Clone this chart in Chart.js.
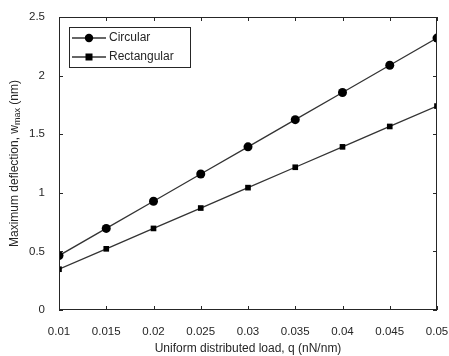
<!DOCTYPE html>
<html>
<head>
<meta charset="utf-8">
<script src="https://cdn.jsdelivr.net/npm/chart.js@4/dist/chart.umd.min.js"></script>
<style>
  html, body { margin: 0; padding: 0; background: #fff; }
  #wrap { width: 449px; height: 356px; }
</style>
</head>
<body>
<div id="wrap"><canvas id="c" width="449" height="356"></canvas></div>
<script>
// Load values (nN/nm) and the maximum deflection for each plate shape (nm)
const loads = [0.01, 0.015, 0.02, 0.025, 0.03, 0.035, 0.04, 0.045, 0.05];
const circular = [0.464, 0.696, 0.928, 1.16, 1.392, 1.624, 1.856, 2.088, 2.32];
const rectangular = [0.348, 0.522, 0.696, 0.87, 1.044, 1.218, 1.392, 1.566, 1.74];
const xTickLabels = ['0.01', '0.015', '0.02', '0.025', '0.03', '0.035', '0.04', '0.045', '0.05'];
const yTickValues = [0, 0.5, 1, 1.5, 2, 2.5];
const yTickLabels = ['0', '0.5', '1', '1.5', '2', '2.5'];

const INK = '#262626';
const FONT = 'Liberation Sans, Arial, sans-serif';

// Box around the plot with inward ticks on all four sides
const frame = {
  id: 'frame',
  afterDraw(chart) {
    const { ctx, chartArea: a, scales } = chart;
    ctx.save();
    ctx.strokeStyle = INK;
    ctx.lineWidth = 1;
    ctx.strokeRect(a.left + 0.5, a.top + 0.5, a.right - a.left - 1, a.bottom - a.top - 1);
    const t = 4;
    ctx.beginPath();
    loads.forEach(v => {
      const x = Math.round(scales.x.getPixelForValue(v)) + 0.5;
      ctx.moveTo(x, a.bottom); ctx.lineTo(x, a.bottom - t);
      ctx.moveTo(x, a.top); ctx.lineTo(x, a.top + t);
    });
    yTickValues.forEach(v => {
      const y = Math.round(scales.y.getPixelForValue(v)) + 0.5;
      ctx.moveTo(a.left, y); ctx.lineTo(a.left + t, y);
      ctx.moveTo(a.right, y); ctx.lineTo(a.right - t, y);
    });
    ctx.stroke();

    // y-axis title with subscript
    ctx.fillStyle = INK;
    ctx.translate(15, (a.top + a.bottom) / 2);
    ctx.rotate(-Math.PI / 2);
    const parts = [
      { s: 'Maximum deflection, w', f: '12px ' + FONT, dy: 0 },
      { s: 'max', f: '9px ' + FONT, dy: 3 },
      { s: ' (nm)', f: '12px ' + FONT, dy: 0 }
    ];
    let total = 0;
    parts.forEach(p => { ctx.font = p.f; p.w = ctx.measureText(p.s).width; total += p.w; });
    let x = -total / 2;
    ctx.textBaseline = 'middle';
    ctx.textAlign = 'left';
    parts.forEach(p => { ctx.font = p.f; ctx.fillText(p.s, x, p.dy); x += p.w; });
    ctx.restore();

    // legend box in the upper-left corner of the plot
    ctx.save();
    const lx = a.left + 10, ly = a.top + 10, lw = 121, lh = 40;
    ctx.fillStyle = '#fff';
    ctx.fillRect(lx, ly, lw, lh);
    ctx.strokeStyle = INK;
    ctx.lineWidth = 1;
    ctx.strokeRect(lx + 0.5, ly + 0.5, lw, lh);
    ctx.font = '12px ' + FONT;
    ctx.textBaseline = 'middle';
    chart.data.datasets.forEach((ds, i) => {
      const cy = ly + 11 + i * 19;
      ctx.strokeStyle = '#333';
      ctx.lineWidth = 1.3;
      ctx.beginPath();
      ctx.moveTo(lx + 3, cy); ctx.lineTo(lx + 37, cy);
      ctx.stroke();
      ctx.fillStyle = '#000';
      const mx = lx + 20;
      if (ds.pointStyle === 'rect') {
        ctx.fillRect(mx - 3.5, cy - 3.5, 7, 7);
      } else {
        ctx.beginPath(); ctx.arc(mx, cy, 4.2, 0, Math.PI * 2); ctx.fill();
      }
      ctx.fillStyle = INK;
      ctx.fillText(ds.label, lx + 40, cy);
    });
    ctx.restore();
  }
};

new Chart(document.getElementById('c'), {
  type: 'line',
  data: {
    datasets: [
      {
        label: 'Circular',
        data: loads.map((q, i) => ({ x: q, y: circular[i] })),
        borderColor: '#333', borderWidth: 1.3,
        pointStyle: 'circle', pointRadius: 4.5,
        pointBackgroundColor: '#000', pointBorderColor: '#000', pointBorderWidth: 0
      },
      {
        label: 'Rectangular',
        data: loads.map((q, i) => ({ x: q, y: rectangular[i] })),
        borderColor: '#333', borderWidth: 1.3,
        pointStyle: 'rect', pointRadius: 4,
        pointBackgroundColor: '#000', pointBorderColor: '#000', pointBorderWidth: 0
      }
    ]
  },
  options: {
    responsive: false,
    animation: false,
    layout: { padding: { left: 0, top: 17, right: 12, bottom: 0 } },
    plugins: { legend: { display: false }, tooltip: { enabled: false } },
    elements: { line: { tension: 0 } },
    scales: {
      x: {
        type: 'linear', min: 0.01, max: 0.05,
        afterBuildTicks: s => { s.ticks = loads.map(v => ({ value: v })); },
        afterFit: s => { s.height = 46; s.paddingLeft = 0; s.paddingRight = 0; },
        grid: { display: false },
        border: { display: false },
        ticks: {
          color: INK, font: { family: FONT, size: 11.5 }, padding: 7, maxRotation: 0, autoSkip: false,
          callback: (v, i) => xTickLabels[i]
        },
        title: {
          display: true, text: 'Uniform distributed load, q (nN/nm)',
          color: INK, font: { family: FONT, size: 12 }, padding: { top: 3, bottom: 0 }
        }
      },
      y: {
        type: 'linear', min: 0, max: 2.5,
        afterBuildTicks: s => { s.ticks = yTickValues.map(v => ({ value: v })); },
        afterFit: s => { s.width = 59; s.paddingTop = 0; s.paddingBottom = 0; },
        grid: { display: false },
        border: { display: false },
        ticks: {
          color: INK, font: { family: FONT, size: 11.5 }, padding: 6, autoSkip: false,
          callback: (v, i) => yTickLabels[i]
        }
      }
    }
  },
  plugins: [frame]
});
</script>
</body>
</html>
